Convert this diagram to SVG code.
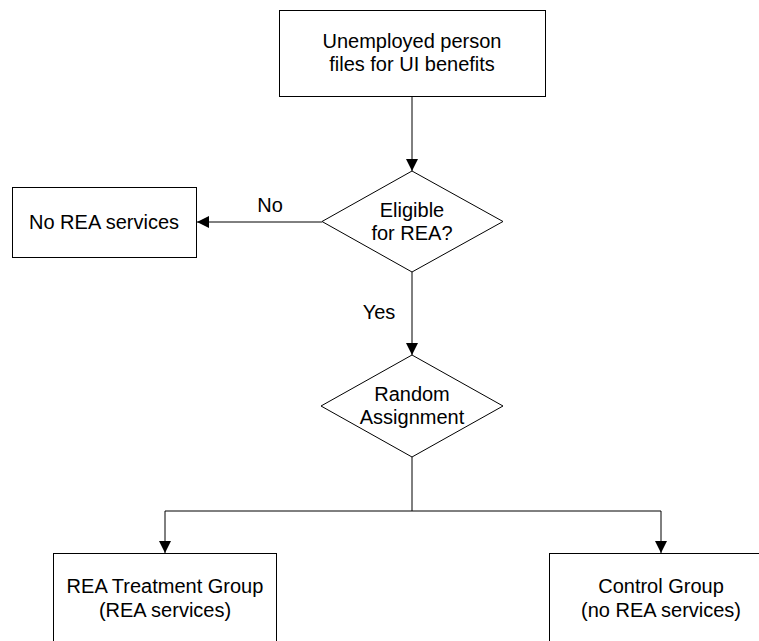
<svg xmlns="http://www.w3.org/2000/svg" width="759" height="641" viewBox="0 0 759 641">
<style>
.box{fill:#fff;stroke:#000;stroke-width:1}
.t{font-family:"Liberation Sans",Arial,sans-serif;font-size:20px;fill:#000;text-anchor:middle}
.c{fill:none;stroke:#000;stroke-width:1}
</style>
<defs>
<marker id="ah" viewBox="0 0 12 12" refX="12" refY="6" markerWidth="12" markerHeight="12" markerUnits="userSpaceOnUse" orient="auto">
<path d="M0,0 L12,6 L0,12 Z" fill="#000"/>
</marker>
</defs>
<rect width="759" height="641" fill="#fff"/>
<g id="connectors">
<line class="c" x1="412" y1="97" x2="412" y2="171" marker-end="url(#ah)"/>
<line class="c" x1="322" y1="222" x2="197" y2="222" marker-end="url(#ah)"/>
<line class="c" x1="412" y1="272" x2="412" y2="355" marker-end="url(#ah)"/>
<polyline class="c" points="412,457 412,511 165,511 165,553" marker-end="url(#ah)"/>
<polyline class="c" points="412,511 661,511 661,553" marker-end="url(#ah)"/>
<text class="t" x="270" y="212">No</text>
<text class="t" x="379" y="319">Yes</text>
</g>
<g id="start">
<rect class="box" x="279.5" y="10.5" width="266" height="86"/>
<text class="t" x="412" y="47.5">Unemployed person</text>
<text class="t" x="412" y="70.5">files for UI benefits</text>
</g>
<g id="eligible">
<polygon class="box" points="412,171 503,221.5 412,272 322,221.5"/>
<text class="t" x="412" y="217">Eligible</text>
<text class="t" x="412" y="240">for REA?</text>
</g>
<g id="no-rea">
<rect class="box" x="12.5" y="187.5" width="184" height="70"/>
<text class="t" x="104" y="229">No REA services</text>
</g>
<g id="random">
<polygon class="box" points="412,355 503,406 412,457 321,406"/>
<text class="t" x="412" y="400.5">Random</text>
<text class="t" x="412" y="423.5">Assignment</text>
</g>
<g id="treatment">
<rect class="box" x="53.5" y="553.5" width="223" height="100"/>
<text class="t" x="165" y="593">REA Treatment Group</text>
<text class="t" x="165" y="617">(REA services)</text>
</g>
<g id="control">
<rect class="box" x="549.5" y="553.5" width="223" height="100"/>
<text class="t" x="661" y="593">Control Group</text>
<text class="t" x="661" y="617">(no REA services)</text>
</g>
</svg>
